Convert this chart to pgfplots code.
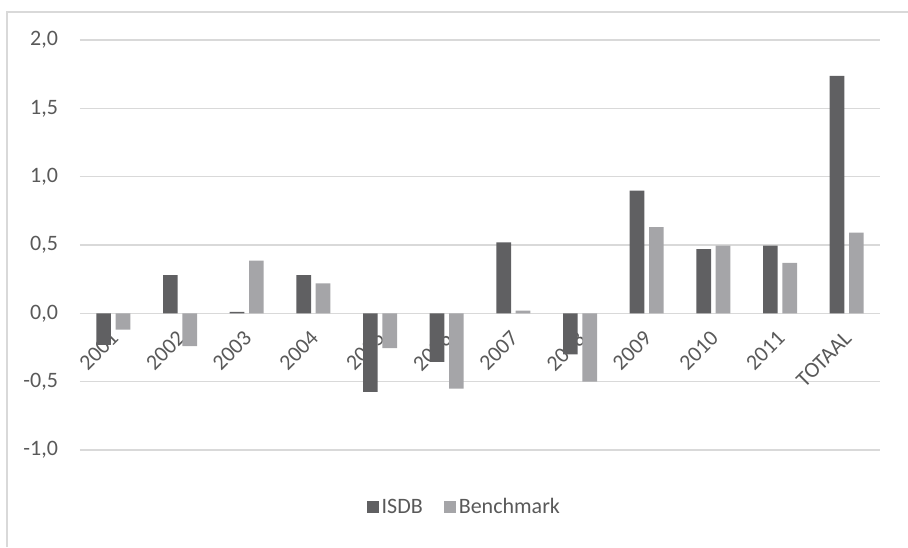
\documentclass[border=0pt]{standalone}
\usepackage{fontspec}
\setmainfont{Carlito}
\usepackage{pgfplots}
\pgfplotsset{compat=1.18}

\definecolor{isdb}{HTML}{606062}
\definecolor{bench}{HTML}{A5A5A8}
\definecolor{gridc}{HTML}{D9D9D9}
\definecolor{txt}{HTML}{595959}

\begin{document}
\begin{tikzpicture}
\useasboundingbox (0,0) rectangle (681pt,410.25pt);
% chart frame (left and top edges)
\draw[gridc, line width=0.8pt] (5.25pt,0) -- (5.25pt,401.25pt) -- (681pt,401.25pt);
\begin{axis}[
  at={(60pt,72.75pt)}, anchor=south west,
  scale only axis, width=600pt, height=307.5pt,
  xmin=-0.5, xmax=11.5, ymin=-1, ymax=2,
  ybar=3.5pt, bar width=11pt,
  axis line style={draw=none},
  major tick length=0pt,
  ytick={-1,-0.5,0,0.5,1,1.5,2},
  ymajorgrids, grid style={gridc, line width=1pt},
  xtick={0,...,11},
  xticklabels={2001,2002,2003,2004,2005,2006,2007,2008,2009,2010,2011,TOTAAL},
  font=\fontsize{16.5pt}{19pt}\selectfont,
  every tick label/.append style={text=txt},
  xticklabel style={xshift=-3pt, yshift=95pt, rotate=45, anchor=north east},
  yticklabel style={xshift=-13pt},
  /pgf/number format/.cd, assume math mode=true, use comma, fixed, fixed zerofill, precision=1,
  /pgfplots/.cd,
  legend style={draw=none, fill=none, at={(axis description cs:0.481,-0.139)}, anchor=center,
    legend columns=2, text=txt, font=\fontsize{16.5pt}{19pt}\selectfont,
    /tikz/every even column/.append style={column sep=14pt}},
  legend image code/.code={\fill[#1] (0pt,-4.5pt) rectangle (9pt,4.5pt);},
]
\addplot[fill=isdb, draw=none] coordinates {
  (0,-0.23) (1,0.28) (2,0.01) (3,0.28) (4,-0.575) (5,-0.355)
  (6,0.52) (7,-0.30) (8,0.897) (9,0.47) (10,0.495) (11,1.737)};
\addplot[fill=bench, draw=none] coordinates {
  (0,-0.12) (1,-0.24) (2,0.385) (3,0.22) (4,-0.255) (5,-0.55)
  (6,0.02) (7,-0.50) (8,0.631) (9,0.495) (10,0.37) (11,0.59)};
\legend{ISDB,Benchmark}
\end{axis}
\end{tikzpicture}
\end{document}
